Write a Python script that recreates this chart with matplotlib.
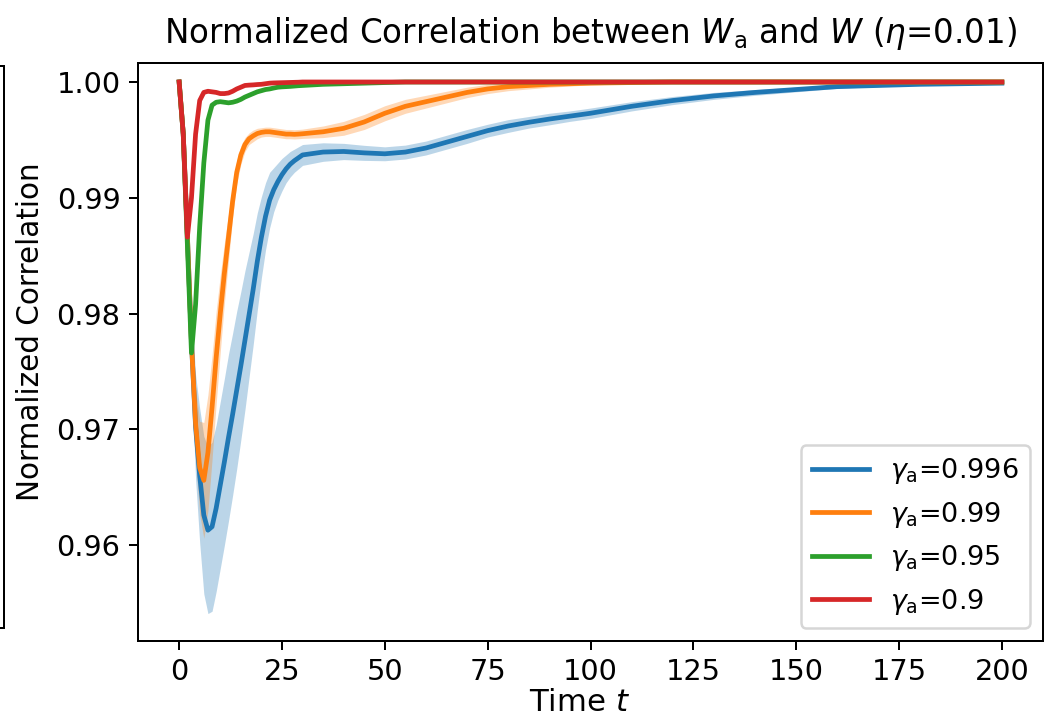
import numpy as np
import matplotlib
matplotlib.use('Agg')
import matplotlib.pyplot as plt

# time samples (shared by all curves)
t = list(range(0, 31)) + list(range(35, 101, 5)) + list(range(110, 201, 10))

labels = [r'$\gamma_{\rm a}$=0.996', r'$\gamma_{\rm a}$=0.99',
          r'$\gamma_{\rm a}$=0.95', r'$\gamma_{\rm a}$=0.9']

# mean normalized correlation
corr_996 = [1.0, 0.9955, 0.9868, 0.9775, 0.9702, 0.9660, 0.9626, 0.9613, 0.9616, 0.9632,
            0.9652, 0.9672, 0.9693, 0.9713, 0.9734, 0.9755, 0.9777, 0.9799, 0.9821, 0.9845,
            0.9866, 0.9884, 0.9898, 0.9907, 0.9914, 0.9920, 0.9925, 0.9929, 0.9932, 0.99345,
            0.9937,
            0.99395, 0.9940, 0.99388, 0.9938, 0.99395, 0.9943, 0.9948, 0.9953, 0.9958, 0.9962,
            0.99652, 0.9968, 0.99705, 0.9973,
            0.9979, 0.9984, 0.9988, 0.9991, 0.99935, 0.9996, 0.9997, 0.9998, 0.99985, 0.9999]
corr_99 = [1.0, 0.9955, 0.9868, 0.9775, 0.9705, 0.9667, 0.9656, 0.9680, 0.9719, 0.9762,
           0.9800, 0.9835, 0.9866, 0.9897, 0.9922, 0.9937, 0.9946, 0.9951, 0.99535, 0.99555,
           0.99565, 0.9957, 0.9957, 0.99565, 0.9956, 0.99555, 0.9955, 0.9955, 0.99548, 0.9955,
           0.99553,
           0.9957, 0.9960, 0.99655, 0.9973, 0.9979, 0.9983, 0.9987, 0.9991, 0.9994, 0.9996,
           0.9997, 0.9998, 0.99985, 0.9999,
           0.99995, 1.0, 1.0, 1.0, 1.0, 1.0, 1.0, 1.0, 1.0, 1.0]
corr_95 = [1.0, 0.9955, 0.9860, 0.9766, 0.9808, 0.9875, 0.9930, 0.9967, 0.9980, 0.99825,
           0.9983, 0.99825, 0.9982, 0.99825, 0.99835, 0.9985, 0.9987, 0.99885, 0.9990, 0.99915,
           0.99925, 0.99935, 0.9994, 0.99948, 0.99955, 0.99958, 0.9996, 0.99962, 0.99965, 0.99968,
           0.9997,
           0.9998, 0.99985, 0.9999, 0.99995, 1.0, 1.0, 1.0, 1.0, 1.0, 1.0,
           1.0, 1.0, 1.0, 1.0,
           1.0, 1.0, 1.0, 1.0, 1.0, 1.0, 1.0, 1.0, 1.0, 1.0]
corr_9 = [1.0, 0.9955, 0.9866, 0.9900, 0.9955, 0.9984, 0.9991, 0.9992, 0.99915, 0.9991,
          0.9990, 0.9990, 0.99905, 0.9992, 0.9994, 0.99955, 0.9997, 0.99973, 0.99975, 0.99978,
          0.9998, 0.99985, 0.9999, 0.99992, 0.99993, 0.99994, 0.99995, 0.99996, 0.99997, 0.99998,
          1.0,
          1.0, 1.0, 1.0, 1.0, 1.0, 1.0, 1.0, 1.0, 1.0, 1.0,
          1.0, 1.0, 1.0, 1.0,
          1.0, 1.0, 1.0, 1.0, 1.0, 1.0, 1.0, 1.0, 1.0, 1.0]

# spread across runs (shaded band)
std_996 = [0.0, 0.0005, 0.0015, 0.003, 0.0045, 0.0058, 0.0068, 0.0072, 0.0073, 0.0072,
           0.0072, 0.0072, 0.0072, 0.0070, 0.0068, 0.0064, 0.0060, 0.0054, 0.0048, 0.0042,
           0.0035, 0.0029, 0.0024, 0.0019, 0.0016, 0.0014, 0.0012, 0.0011, 0.0010, 0.00095,
           0.0009,
           0.0008, 0.0007, 0.00065, 0.0006, 0.0006, 0.0006, 0.0006, 0.0006, 0.00055, 0.00055,
           0.0005, 0.0005, 0.00045, 0.00045,
           0.0004, 0.00035, 0.0003, 0.00025, 0.0002, 0.00015, 0.0001, 0.00008, 0.00006, 0.00005]
std_99 = [0.0, 0.0004, 0.001, 0.002, 0.003, 0.004, 0.005, 0.005, 0.0045, 0.004,
          0.0033, 0.0026, 0.002, 0.0014, 0.001, 0.0008, 0.0006, 0.0005, 0.0005, 0.00045,
          0.0004, 0.0004, 0.0004, 0.0004, 0.0004, 0.0004, 0.0004, 0.0004, 0.0004, 0.0004,
          0.0004,
          0.0005, 0.0006, 0.00065, 0.00065, 0.0006, 0.00055, 0.0005, 0.00045, 0.0004, 0.00035,
          0.0003, 0.00025, 0.0002, 0.00015,
          0.0001, 0.00005, 0.00004, 0.00003, 0.00003, 0.00003, 0.00003, 0.00003, 0.00003, 0.00003]
std_95 = [0.0, 0.0002, 0.0003, 0.0005, 0.0005, 0.0004, 0.0003, 0.0002, 0.00015, 0.0001,
          0.0001, 0.0001, 0.0001, 0.0001, 0.0001, 0.0001, 0.0001, 0.0001, 0.0001, 0.0001,
          0.0001, 0.00005, 0.00005, 0.00005, 0.00005, 0.00005, 0.00005, 0.00005, 0.00005, 0.00005,
          0.00005,
          0.00003, 0.00003, 0.00003, 0.00003, 0.00003, 0.00003, 0.00003, 0.00003, 0.00003, 0.00003,
          0.00003, 0.00003, 0.00003, 0.00003,
          0.00003, 0.00003, 0.00003, 0.00003, 0.00003, 0.00003, 0.00003, 0.00003, 0.00003, 0.00003]
std_9 = [0.0, 0.0002, 0.0003, 0.0002, 0.0001, 0.0001, 0.0001, 0.0001, 0.0001, 0.0001,
         0.0001, 0.0001, 0.0001, 0.00008, 0.00006, 0.00005, 0.00004, 0.00003, 0.00003, 0.00003,
         0.00003, 0.00003, 0.00003, 0.00003, 0.00003, 0.00003, 0.00003, 0.00003, 0.00003, 0.00003,
         0.00003,
         0.00003, 0.00003, 0.00003, 0.00003, 0.00003, 0.00003, 0.00003, 0.00003, 0.00003, 0.00003,
         0.00003, 0.00003, 0.00003, 0.00003,
         0.00003, 0.00003, 0.00003, 0.00003, 0.00003, 0.00003, 0.00003, 0.00003, 0.00003, 0.00003]

means = [corr_996, corr_99, corr_95, corr_9]
stds = [std_996, std_99, std_95, std_9]

fig = plt.figure(figsize=(1058 / 180, 719 / 180), dpi=180)

# right edge of the neighbouring panel, cropped in the original
ax_left = fig.add_axes([-0.3, 1 - 628 / 719, 0.3 + 4 / 1058, (628 - 66) / 719])
ax_left.set_xticks([])
ax_left.set_yticks([])

ax = fig.add_axes([138 / 1058, 1 - 641 / 719, (1043 - 138) / 1058, (641 - 63) / 719])
tt = np.array(t)
for m, s, lab in zip(means, stds, labels):
    m = np.array(m)
    s = np.array(s)
    line, = ax.plot(tt, m, label=lab, lw=1.9)
    ax.fill_between(tt, m - s, m + s, color=line.get_color(), alpha=0.3, lw=0)

ax.set_xlim(-10, 210)
ax.set_ylim(0.95173, 1.00164)
ax.set_yticks([0.96, 0.97, 0.98, 0.99, 1.00])
ax.set_xticks(range(0, 201, 25))
ax.tick_params(labelsize=11.5)
ax.set_xlabel(r'Time $t$', fontsize=12.3)
ax.set_ylabel('Normalized Correlation', fontsize=11.8)
ax.xaxis.set_label_coords(0.488, -0.082)
ax.yaxis.set_label_coords(-0.103, 0.535)
ax.set_title(r'Normalized Correlation between $W_{\rm a}$ and $W$ ($\eta$=0.01)',
             fontsize=13, pad=8)
ax.legend(loc='lower right', fontsize=10.8, handlelength=2.1, labelspacing=0.5,
          borderpad=0.4)

fig.savefig('out.png', dpi=180)
